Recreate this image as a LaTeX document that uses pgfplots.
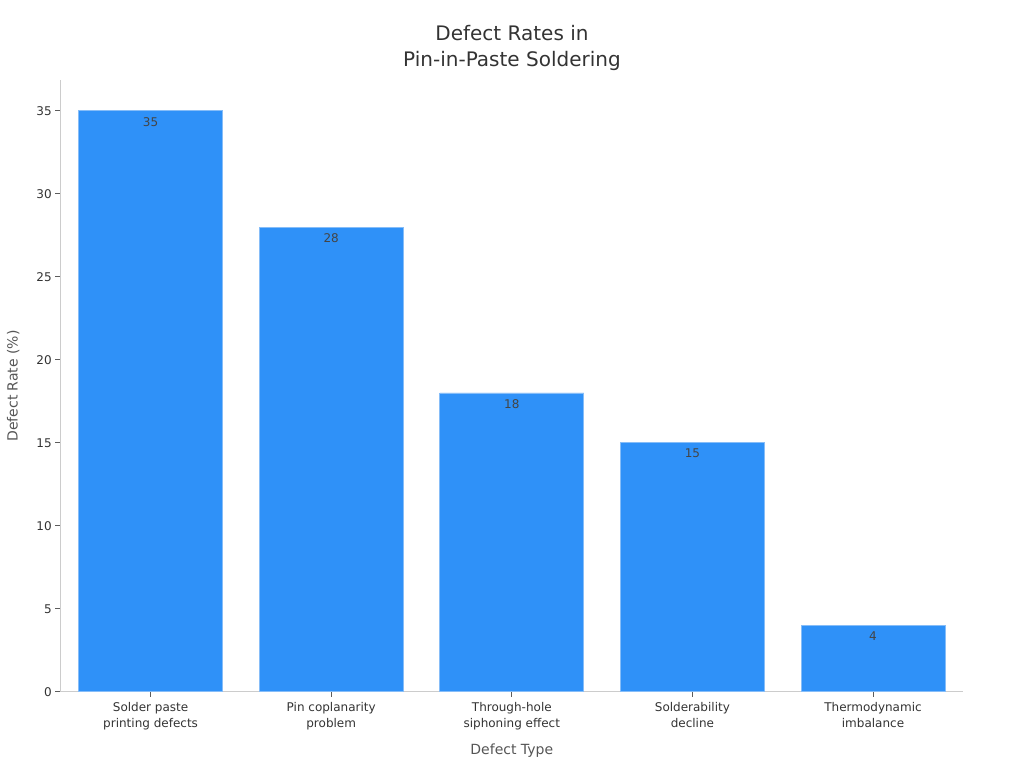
\documentclass[border=0pt]{standalone}
\usepackage{pgfplots}
\pgfplotsset{compat=1.18}
\usepackage{fontspec}
\setmainfont{DejaVu Sans}
\definecolor{barblue}{HTML}{2F91F8}
\definecolor{baredge}{HTML}{86BDF8}
\definecolor{axisgrey}{HTML}{CCCCCC}
\definecolor{tickgrey}{HTML}{333333}
\definecolor{labgrey}{HTML}{555555}
\definecolor{valgrey}{HTML}{444444}
\begin{document}
\begin{tikzpicture}[x=1pt,y=1pt]
\begin{axis}[
  name=ax,
  anchor=south west,
  scale only axis, width=903pt, height=611.5pt,
  xmin=-0.5, xmax=4.5, ymin=0, ymax=36.85,
  axis x line*=bottom, axis y line*=left,
  axis line style={-, draw=axisgrey, line width=0.8pt},
  xtick={0,1,2,3,4},
  xticklabels={{Solder paste\\printing defects},{Pin coplanarity\\problem},{Through-hole\\siphoning effect},{Solderability\\decline},{Thermodynamic\\imbalance}},
  xticklabel style={align=center, font=\fontsize{12}{16}\selectfont, text=tickgrey, yshift=-2pt},
  ytick={0,5,...,35},
  yticklabel style={font=\fontsize{12}{14}\selectfont, text=tickgrey},
  /pgf/number format/assume math mode=true,
  tick align=outside, major tick length=5pt,
  tick style={draw=tickgrey!80, line width=0.8pt},
  xlabel={Defect Type}, ylabel={Defect Rate (\%)},
  xlabel style={at={(axis description cs:0.5,-0.0965)}, anchor=center, font=\fontsize{14}{16}\selectfont, text=labgrey},
  ylabel style={at={(axis description cs:-0.052,0.5)}, anchor=center, font=\fontsize{14}{16}\selectfont, text=labgrey},
  title={Defect Rates in\\Pin-in-Paste Soldering},
  title style={at={(axis description cs:0.5002,1.043)}, anchor=center, align=center, font=\fontsize{20}{26}\selectfont, text=tickgrey},
  ybar, bar width=144pt, bar shift=0pt,
  nodes near coords,
  nodes near coords style={anchor=north, inner sep=0pt, yshift=-6pt, font=\fontsize{12}{14}\selectfont, text=valgrey},
  clip=false,
]
\addplot[fill=barblue, draw=baredge, line width=0.8pt] coordinates {(0,35) (1,28) (2,18) (3,15) (4,4)};
\end{axis}
\pgfresetboundingbox
\useasboundingbox ([shift={(-60.3pt,-76.3pt)}]ax.south west) rectangle ([shift={(963.7pt,691.7pt)}]ax.south west);
\end{tikzpicture}
\end{document}
